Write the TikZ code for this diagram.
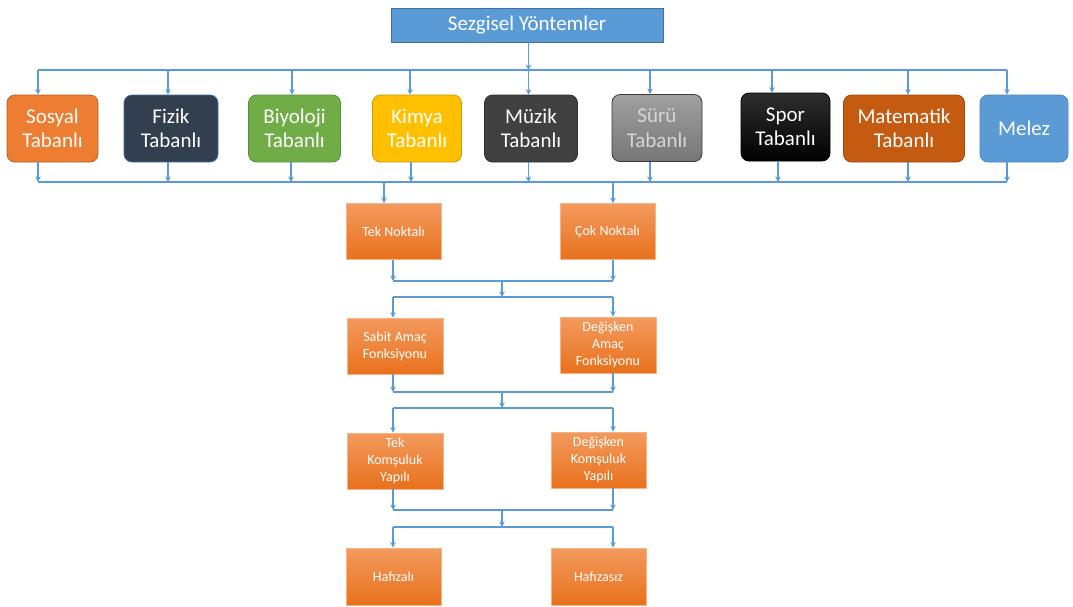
\documentclass[tikz,border=0pt]{standalone}
\usepackage{fontspec}
\setmainfont{Carlito}
\usetikzlibrary{arrows.meta,calc}
\definecolor{ln}{HTML}{5B9BD5}
\definecolor{topf}{HTML}{5B9BD5}
\definecolor{topb}{HTML}{41719C}
\definecolor{csos}{HTML}{ED7D31}
\definecolor{bsos}{HTML}{B05F25}
\definecolor{cfiz}{HTML}{323F4F}
\definecolor{bfiz}{HTML}{41719C}
\definecolor{cbiy}{HTML}{70AD47}
\definecolor{bbiy}{HTML}{5A8E38}
\definecolor{ckim}{HTML}{FFC000}
\definecolor{bkim}{HTML}{C99A00}
\definecolor{cmuz}{HTML}{404040}
\definecolor{bmuz}{HTML}{303030}
\definecolor{csurt}{HTML}{A0A0A0}
\definecolor{csurb}{HTML}{767676}
\definecolor{bsur}{HTML}{3A3A3A}
\definecolor{tsur}{HTML}{D6D6D6}
\definecolor{cspt}{HTML}{2E2E2E}
\definecolor{cspb}{HTML}{000000}
\definecolor{cmat}{HTML}{C55A11}
\definecolor{bmat}{HTML}{9C470D}
\definecolor{cmel}{HTML}{5B9BD5}
\definecolor{bmel}{HTML}{4A86BE}
\definecolor{ort}{HTML}{F39A5E}
\definecolor{orb}{HTML}{E8711C}
\definecolor{orline}{HTML}{F5B486}
\begin{document}
\begin{tikzpicture}[x=1pt,y=-1pt,
  ln/.style={draw=ln,line width=1.1pt},
  arr/.style={draw=ln,line width=1.1pt,-{Stealth[length=5.5pt,width=5.5pt]}},
  lvl/.style={rounded corners=8pt,line width=0.8pt,text=white,align=center,
    minimum height=67pt,inner sep=0pt,font=\fontsize{21}{24.5}\selectfont},
  obox/.style={top color=ort,bottom color=orb,draw=orline,line width=0.8pt,
    text=white,align=center,minimum width=95pt,minimum height=56pt,inner sep=0pt,
    font=\fontsize{14}{17}\selectfont}
]
\useasboundingbox (0,0) rectangle (1073,606);

% top node
\node[fill=topf,draw=topb,line width=0.8pt,minimum width=272pt,minimum height=34pt,
  inner sep=0pt,text=white,font=\fontsize{21}{24}\selectfont] (top) at (527,25) {Sezgisel Yöntemler};

% level 1
\node[lvl,fill=csos,draw=bsos,minimum width=91pt] (sos) at (52.5,128.5) {Sosyal\\Tabanlı};
\node[lvl,fill=cfiz,draw=bfiz,minimum width=94pt] (fiz) at (171,128.5) {Fizik\\Tabanlı};
\node[lvl,fill=cbiy,draw=bbiy,minimum width=92pt] (biy) at (294.5,128.5) {Biyoloji\\Tabanlı};
\node[lvl,fill=ckim,draw=bkim,minimum width=89pt] (kim) at (417,128.5) {Kimya\\Tabanlı};
\node[lvl,fill=cmuz,draw=bmuz,minimum width=93pt] (muz) at (531,128.5) {Müzik\\Tabanlı};
\node[lvl,top color=csurt,bottom color=csurb,draw=bsur,text=tsur,minimum width=90pt] (sur) at (657,128) {Sürü\\Tabanlı};
\node[lvl,top color=cspt,bottom color=cspb,draw=black,minimum width=89pt,minimum height=68pt] (spo) at (785.5,127) {Spor\\Tabanlı};
\node[lvl,fill=cmat,draw=bmat,minimum width=121pt] (mat) at (904,128.5) {Matematik\\Tabanlı};
\node[lvl,fill=cmel,draw=bmel,minimum width=88pt] (mel) at (1024,128.5) {Melez};

% top bus
\coordinate (t1) at (38,70);
\coordinate (t2) at (168,70);
\coordinate (t3) at (292,70);
\coordinate (t4) at (410,70);
\coordinate (t5) at (528.5,70);
\coordinate (t6) at (650,70);
\coordinate (t7) at (772,70);
\coordinate (t8) at (908,70);
\coordinate (t9) at (1007,70);
\draw[ln] (t1) -- (t9);
\draw[arr] (t5 |- top.south) -- (t5);
\draw[arr] (t1) -- (t1 |- sos.north);
\draw[arr] (t2) -- (t2 |- fiz.north);
\draw[arr] (t3) -- (t3 |- biy.north);
\draw[arr] (t4) -- (t4 |- kim.north);
\draw[arr] (t5) -- (t5 |- muz.north);
\draw[arr] (t6) -- (t6 |- sur.north);
\draw[arr] (t7) -- (t7 |- spo.north);
\draw[arr] (t8) -- (t8 |- mat.north);
\draw[arr] (t9) -- (t9 |- mel.north);

% bottom bus
\coordinate (u1) at (38,182);
\coordinate (u2) at (168,182);
\coordinate (u3) at (291,182);
\coordinate (u4) at (411,182);
\coordinate (u5) at (528.5,182);
\coordinate (u6) at (650,182);
\coordinate (u7) at (778,182);
\coordinate (u8) at (908,182);
\coordinate (u9) at (1007,182);
\draw[ln] (u1) -- (u9);
\draw[arr] (u1 |- sos.south) -- (u1);
\draw[arr] (u2 |- fiz.south) -- (u2);
\draw[arr] (u3 |- biy.south) -- (u3);
\draw[arr] (u4 |- kim.south) -- (u4);
\draw[arr] (u5 |- muz.south) -- (u5);
\draw[arr] (u6 |- sur.south) -- (u6);
\draw[arr] (u7 |- spo.south) -- (u7);
\draw[arr] (u8 |- mat.south) -- (u8);
\draw[arr] (u9 |- mel.south) -- (u9);

% orange boxes
\node[obox] (tek) at (393.5,231.5) {Tek Noktalı};
\node[obox] (cok) at (607.5,231.5) {Çok Noktalı};
\node[obox,minimum width=96pt] (sab) at (395,346) {Sabit Amaç\\Fonksiyonu};
\node[obox,minimum width=96pt] (dam) at (608,345) {Değişken\\Amaç\\Fonksiyonu};
\node[obox,minimum width=96pt] (tkm) at (395,461) {Tek\\Komşuluk\\Yapılı};
\node[obox] (dkm) at (598.5,460) {Değişken\\Komşuluk\\Yapılı};
\node[obox,minimum height=57pt] (haf) at (393.5,576.5) {Hafızalı};
\node[obox,minimum height=57pt] (hfs) at (598.5,576.5) {Hafızasız};

% bus to level 2
\coordinate (a1) at (384,182);
\coordinate (a2) at (613,182);
\draw[arr] (a1) -- (a1 |- tek.north);
\draw[arr] (a2) -- (a2 |- cok.north);

% level 2 -> 3
\coordinate (l1) at (393,281);
\coordinate (r1) at (613,281);
\coordinate (m1) at (502,281);
\coordinate (n1) at (502,297);
\coordinate (l2) at (393,297);
\coordinate (r2) at (613,297);
\draw[ln] (l1) -- (r1);
\draw[arr] (l1 |- tek.south) -- (l1);
\draw[arr] (r1 |- cok.south) -- (r1);
\draw[arr] (m1) -- (n1);
\draw[ln] (l2) -- (r2);
\draw[arr] (l2) -- (l2 |- sab.north);
\draw[arr] (r2) -- (r2 |- dam.north);

% level 3 -> 4
\coordinate (l3) at (393,392);
\coordinate (r3) at (613,392);
\coordinate (m3) at (502,392);
\coordinate (n3) at (502,408);
\coordinate (l4) at (393,408);
\coordinate (r4) at (613,408);
\draw[ln] (l3) -- (r3);
\draw[arr] (l3 |- sab.south) -- (l3);
\draw[arr] (r3 |- dam.south) -- (r3);
\draw[arr] (m3) -- (n3);
\draw[ln] (l4) -- (r4);
\draw[arr] (l4) -- (l4 |- tkm.north);
\draw[arr] (r4) -- (r4 |- dkm.north);

% level 4 -> 5
\coordinate (l5) at (393,510);
\coordinate (r5) at (613,510);
\coordinate (m5) at (502,510);
\coordinate (n5) at (502,527);
\coordinate (l6) at (393,527);
\coordinate (r6) at (613,527);
\draw[ln] (l5) -- (r5);
\draw[arr] (l5 |- tkm.south) -- (l5);
\draw[arr] (r5 |- dkm.south) -- (r5);
\draw[arr] (m5) -- (n5);
\draw[ln] (l6) -- (r6);
\draw[arr] (l6) -- (l6 |- haf.north);
\draw[arr] (r6) -- (r6 |- hfs.north);
\end{tikzpicture}
\end{document}
